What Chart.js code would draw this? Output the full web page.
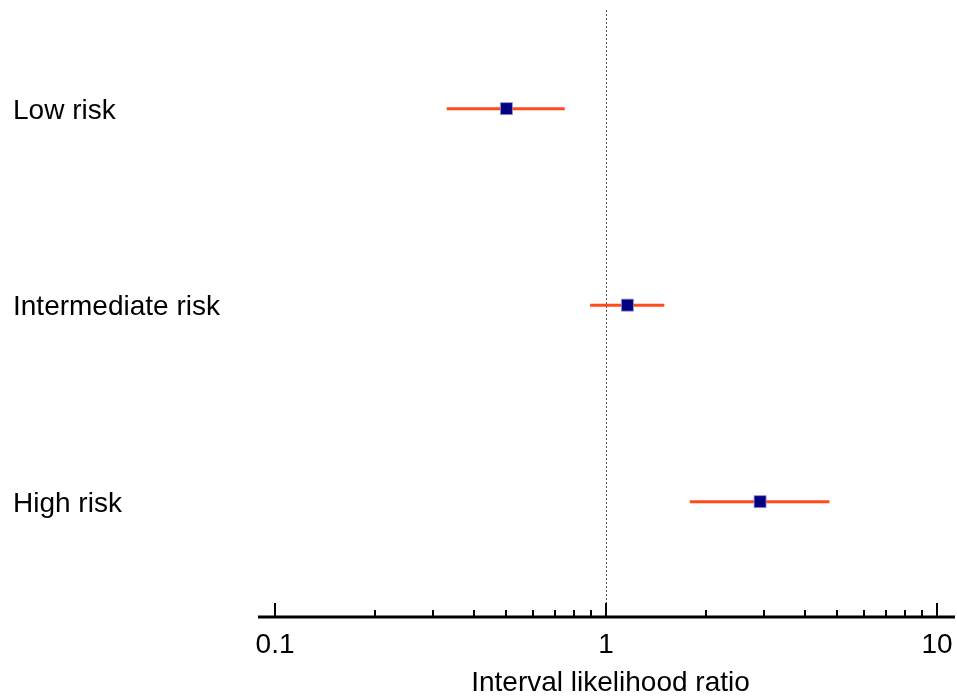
<!DOCTYPE html>
<html>
<head>
<meta charset="utf-8">
<script src="https://cdn.jsdelivr.net/npm/chart.js@4/dist/chart.umd.min.js"></script>
<style>
html,body{margin:0;padding:0;background:#fff;}
#wrap{width:957px;height:697px;position:relative;}
</style>
</head>
<body>
<div id="wrap"><canvas id="c" width="957" height="697"></canvas></div>
<script>
// ---- data ----
const categories = ["Low risk", "Intermediate risk", "High risk"];
const estimates  = [0.50, 1.16, 2.92];
const lowerCI    = [0.33, 0.895, 1.79];
const upperCI    = [0.75, 1.50, 4.73];
const majorTicks = [0.1, 1, 10];
const tickLabels = ["0.1", "1", "10"];
const minorTicks = [0.2,0.3,0.4,0.5,0.6,0.7,0.8,0.9,2,3,4,5,6,7,8,9];
const xTitle = "Interval likelihood ratio";
const refValue = 1;

const FONT = '"Liberation Sans", Arial, sans-serif';

const ciDatasets = categories.map((c, i) => ({
  type: 'line',
  label: c + ' CI',
  data: [{x: lowerCI[i], y: i + 1}, {x: upperCI[i], y: i + 1}],
  borderColor: '#ff4a1c',
  borderWidth: 3,
  pointRadius: 0,
  showLine: true,
  order: 2
}));

const pointDataset = {
  type: 'scatter',
  label: 'Estimate',
  data: categories.map((c, i) => ({x: estimates[i], y: i + 1})),
  pointStyle: 'rect',
  pointRadius: 8.5,
  backgroundColor: '#000080',
  borderColor: 'rgba(150,150,210,0.8)',
  borderWidth: 1,
  order: 1
};

const forestPlugin = {
  id: 'forest',
  beforeDatasetsDraw(chart) {
    const ctx = chart.ctx, xs = chart.scales.x, ca = chart.chartArea;
    const rx = Math.round(xs.getPixelForValue(refValue)) + 0.5;
    ctx.save();
    ctx.strokeStyle = '#555';
    ctx.lineWidth = 1;
    ctx.setLineDash([2, 2]);
    ctx.beginPath();
    ctx.moveTo(rx, ca.top);
    ctx.lineTo(rx, ca.bottom);
    ctx.stroke();
    ctx.restore();
  },
  afterDraw(chart) {
    const ctx = chart.ctx, xs = chart.scales.x, ys = chart.scales.y, ca = chart.chartArea;
    ctx.save();
    const axisY = ca.bottom;
    ctx.strokeStyle = '#000';
    ctx.lineWidth = 3;
    ctx.beginPath();
    ctx.moveTo(ca.left, axisY);
    ctx.lineTo(ca.right, axisY);
    ctx.stroke();
    ctx.lineWidth = 2;
    majorTicks.forEach(v => {
      const px = Math.round(xs.getPixelForValue(v));
      ctx.beginPath(); ctx.moveTo(px, axisY); ctx.lineTo(px, axisY - 14); ctx.stroke();
    });
    minorTicks.forEach(v => {
      const px = Math.round(xs.getPixelForValue(v));
      ctx.beginPath(); ctx.moveTo(px, axisY); ctx.lineTo(px, axisY - 7); ctx.stroke();
    });
    ctx.fillStyle = '#000';
    ctx.font = '28px ' + FONT;
    ctx.textAlign = 'center';
    ctx.textBaseline = 'alphabetic';
    majorTicks.forEach((v, i) => {
      ctx.fillText(tickLabels[i], xs.getPixelForValue(v), axisY + 36);
    });
    ctx.fillText(xTitle, (ca.left + ca.right) / 2 + 4, axisY + 74);
    ctx.textAlign = 'left';
    categories.forEach((c, i) => {
      ctx.fillText(c, 13, ys.getPixelForValue(i + 1) + 10);
    });
    ctx.restore();
  }
};

new Chart(document.getElementById('c'), {
  data: { datasets: [...ciDatasets, pointDataset] },
  options: {
    responsive: false,
    animation: false,
    events: [],
    layout: { autoPadding: false, padding: { left: 258, right: 2, top: 10, bottom: 80 } },
    plugins: { legend: { display: false }, tooltip: { enabled: false } },
    scales: {
      x: { type: 'logarithmic', min: 0.0888, max: 11.33, display: false },
      y: { type: 'linear', reverse: true, min: 0.498, max: 3.587, display: false }
    }
  },
  plugins: [forestPlugin]
});
</script>
</body>
</html>
